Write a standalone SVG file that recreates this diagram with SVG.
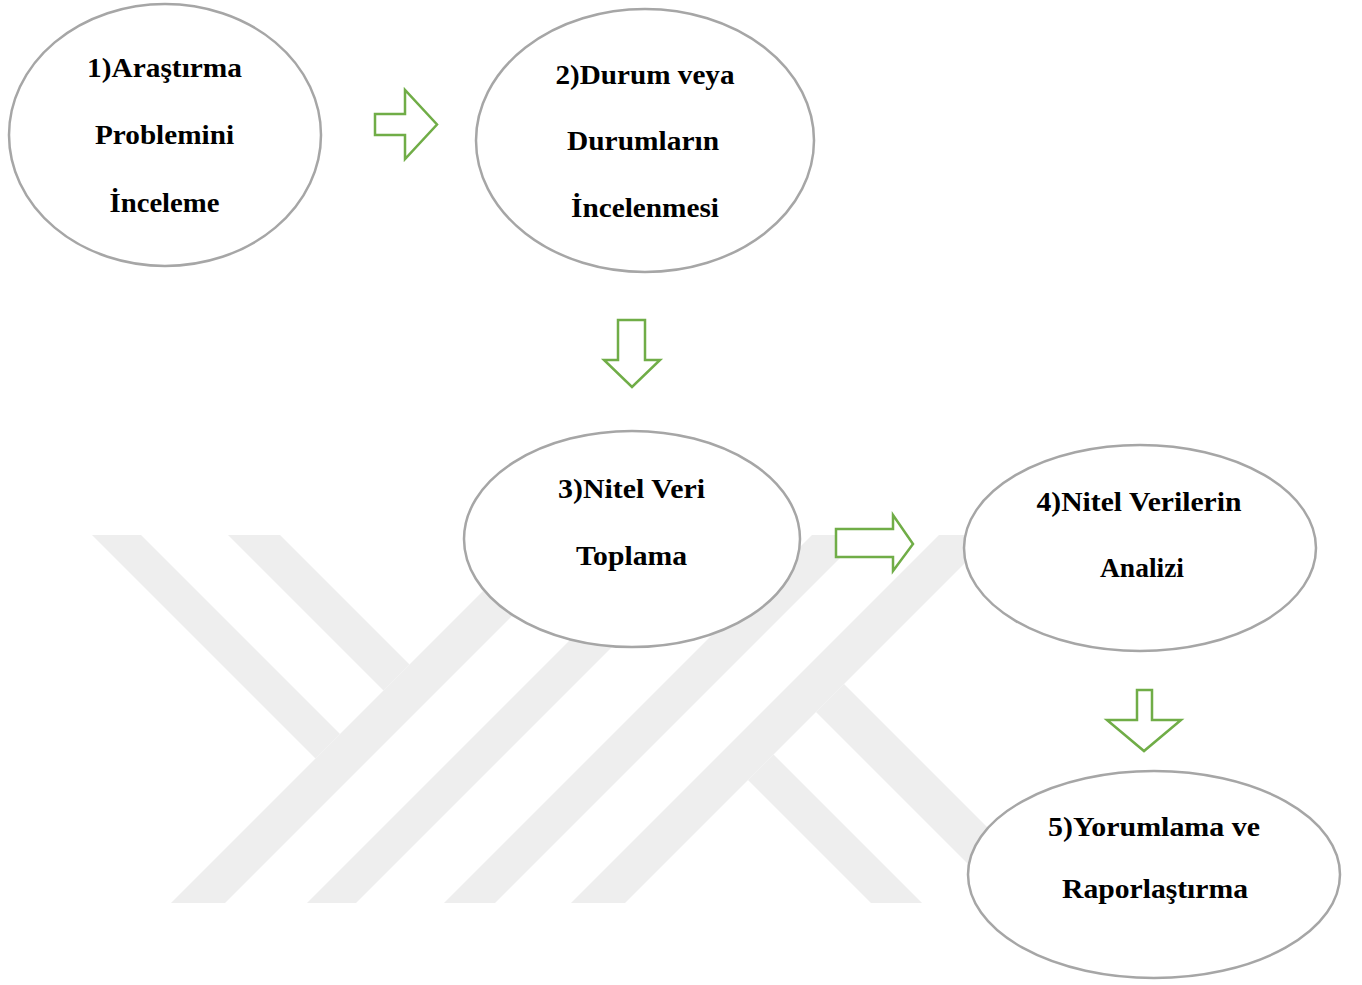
<svg xmlns="http://www.w3.org/2000/svg" width="1362" height="985" viewBox="0 0 1362 985">
  <style>
    .wm { fill: #eeeeee; stroke: none; }
    .node { fill: #ffffff; stroke: #a6a6a6; stroke-width: 2.5; }
    .lbl { font-weight: 700; font-size: 28px; fill: #000000; text-anchor: middle; }
    .arrow { fill: #ffffff; stroke: #70ad47; stroke-width: 2.5; stroke-linejoin: miter; }
  </style>
  <rect x="0" y="0" width="1362" height="985" fill="#ffffff"/>
  <g id="watermark">
    <polygon class="wm" points="92,535 141,535 340,734 315.5,758.5"/>
    <polygon class="wm" points="228,535 280,535 409.5,664.5 383.5,690.5"/>
    <polygon class="wm" points="171,903 225,903 593,535 539,535"/>
    <polygon class="wm" points="307,903 356,903 724,535 675,535"/>
    <polygon class="wm" points="444,903 495,903 863,535 812,535"/>
    <polygon class="wm" points="571,903 625,903 993,535 939,535"/>
    <polygon class="wm" points="748,780 773.5,754.5 922,903 871,903"/>
    <polygon class="wm" points="816,712 844,684 1063,903 1007,903"/>
  </g>
  <g id="connectors">
    <polygon class="arrow" points="375,114 405,114 405,90 437,124.5 405,159 405,135 375,135"/>
    <polygon class="arrow" points="618,320 645,320 645,360 660,360 632,387 604,360 618,360"/>
    <polygon class="arrow" points="836,529 893,529 893,515 913,544 893,571 893,557 836,557"/>
    <polygon class="arrow" points="1137,690 1152,690 1152,720 1181,720 1144,751 1107,720 1137,720"/>
  </g>
  <g font-family="Liberation Serif, Times New Roman, Times, serif">
  <g id="node1">
    <ellipse class="node" cx="165" cy="135" rx="156" ry="131"/>
    <text class="lbl" x="164.5" y="77" textLength="155" lengthAdjust="spacingAndGlyphs">1)Araştırma</text>
    <text class="lbl" x="164.5" y="143.5" textLength="139" lengthAdjust="spacingAndGlyphs">Problemini</text>
    <text class="lbl" x="164.5" y="211.5" textLength="110" lengthAdjust="spacingAndGlyphs">İnceleme</text>
  </g>
  <g id="node2">
    <ellipse class="node" cx="645" cy="140.5" rx="169" ry="131.5"/>
    <text class="lbl" x="645" y="83.5" textLength="179" lengthAdjust="spacingAndGlyphs">2)Durum veya</text>
    <text class="lbl" x="643" y="150" textLength="152" lengthAdjust="spacingAndGlyphs">Durumların</text>
    <text class="lbl" x="645" y="216.5" textLength="148" lengthAdjust="spacingAndGlyphs">İncelenmesi</text>
  </g>
  <g id="node3">
    <ellipse class="node" cx="632" cy="539" rx="168" ry="108"/>
    <text class="lbl" x="631.5" y="498" textLength="147" lengthAdjust="spacingAndGlyphs">3)Nitel Veri</text>
    <text class="lbl" x="631.5" y="565" textLength="111" lengthAdjust="spacingAndGlyphs">Toplama</text>
  </g>
  <g id="node4">
    <ellipse class="node" cx="1140" cy="548" rx="176" ry="103"/>
    <text class="lbl" x="1139" y="511" textLength="205" lengthAdjust="spacingAndGlyphs">4)Nitel Verilerin</text>
    <text class="lbl" x="1142" y="577" textLength="84" lengthAdjust="spacingAndGlyphs">Analizi</text>
  </g>
  <g id="node5">
    <ellipse class="node" cx="1154" cy="874.5" rx="186" ry="103.5"/>
    <text class="lbl" x="1154" y="836" textLength="212" lengthAdjust="spacingAndGlyphs">5)Yorumlama ve</text>
    <text class="lbl" x="1155" y="897.5" textLength="186" lengthAdjust="spacingAndGlyphs">Raporlaştırma</text>
  </g>
  </g>
</svg>
